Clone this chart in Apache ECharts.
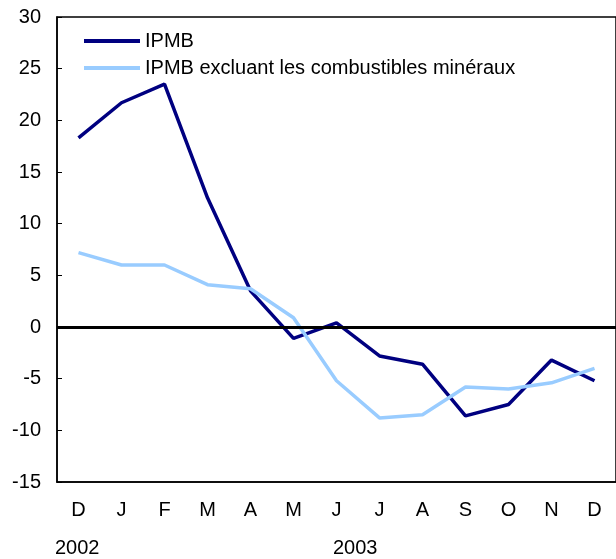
<!DOCTYPE html>
<html>
<head>
<meta charset="utf-8">
<script src="https://cdn.jsdelivr.net/npm/echarts@6/dist/echarts.min.js"></script>
<style>
  html, body { margin: 0; padding: 0; background: #fff; }
  #chart { width: 616px; height: 559px; }
</style>
</head>
<body>
<div id="chart"></div>
<script>
const months = ['D', 'J', 'F', 'M', 'A', 'M', 'J', 'J', 'A', 'S', 'O', 'N', 'D'];
const ipmb = [18.3, 21.7, 23.5, 12.5, 3.5, -1.1, 0.4, -2.8, -3.6, -8.6, -7.5, -3.2, -5.2];
const ipmbExcl = [7.2, 6.0, 6.0, 4.1, 3.7, 0.9, -5.2, -8.8, -8.5, -5.8, -6.0, -5.4, -4.0];
const years = ['2002', '2003'];

const font = 'Liberation Sans, Arial, sans-serif';
const chart = echarts.init(document.getElementById('chart'));

chart.setOption({
  animation: false,
  textStyle: { fontFamily: font },
  grid: { left: 57, top: 17, right: 0, bottom: 77, show: true, borderColor: '#000', borderWidth: 1.5 },
  legend: {
    left: 84, top: 31, orient: 'vertical', itemGap: 7, padding: 0,
    itemWidth: 56, itemHeight: 4,
    icon: 'rect',
    textStyle: { fontFamily: font, fontSize: 20, color: '#000' },
    data: ['IPMB', 'IPMB excluant les combustibles minéraux']
  },
  xAxis: {
    type: 'category',
    data: months,
    boundaryGap: true,
    axisLine: { onZero: false, lineStyle: { color: '#000', width: 1.5 } },
    axisTick: { inside: true, length: 6, lineStyle: { color: '#000' } },
    axisLabel: { color: '#000', fontSize: 20, margin: 18, fontFamily: font }
  },
  yAxis: {
    type: 'value',
    min: -15, max: 30, interval: 5,
    splitLine: { show: false },
    axisLine: { show: true, lineStyle: { color: '#000', width: 1.5 } },
    axisTick: { show: true, inside: true, length: 5, lineStyle: { color: '#000' } },
    axisLabel: { color: '#000', fontSize: 20, margin: 16, fontFamily: font }
  },
  graphic: [
    { type: 'text', left: 55, top: 538, style: { text: years[0], font: '20px ' + font, fill: '#000' } },
    { type: 'text', left: 333, top: 538, style: { text: years[1], font: '20px ' + font, fill: '#000' } }
  ],
  series: [
    {
      name: 'IPMB',
      type: 'line',
      data: ipmb,
      symbol: 'none',
      lineStyle: { color: '#000080', width: 3.5 },
      itemStyle: { color: '#000080' },
      z: 3,
      markLine: {
        silent: true,
        symbol: 'none',
        label: { show: false },
        lineStyle: { color: '#000', width: 3, type: 'solid' },
        data: [{ yAxis: 0 }]
      }
    },
    {
      name: 'IPMB excluant les combustibles minéraux',
      type: 'line',
      data: ipmbExcl,
      symbol: 'none',
      lineStyle: { color: '#99ccff', width: 3.5 },
      itemStyle: { color: '#99ccff' },
      z: 4
    }
  ]
});
</script>
</body>
</html>
